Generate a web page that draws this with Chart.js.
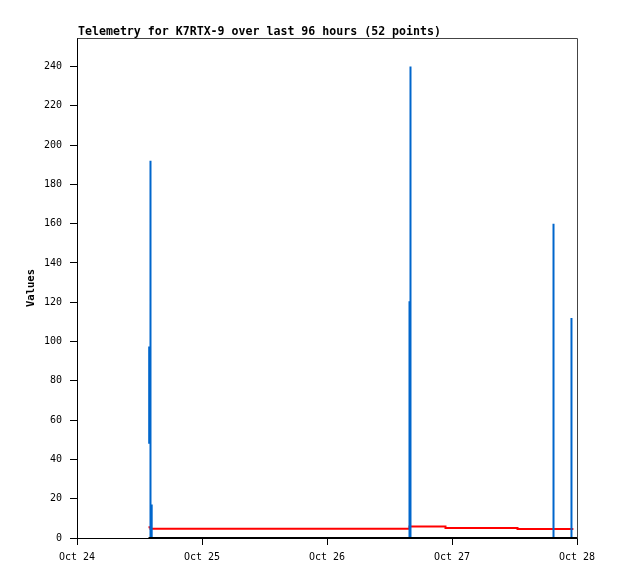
<!DOCTYPE html>
<html><head><meta charset="utf-8">
<script src="https://cdn.jsdelivr.net/npm/chart.js@4/dist/chart.umd.min.js"></script>
<style>html,body{margin:0;padding:0;background:#fff}#wrap{width:618px;height:579px;position:relative}</style>
</head><body><div id="wrap"><canvas id="c"></canvas></div>
<script>
const chartTitle = "Telemetry for K7RTX-9 over last 96 hours (52 points)";
const yAxisTitle = "Values";
const dayLabels = ["Oct 24", "Oct 25", "Oct 26", "Oct 27", "Oct 28"];
const yTickValues = [0, 20, 40, 60, 80, 100, 120, 140, 160, 180, 200, 220, 240];

// time = hours since Oct 24 00:00
const blueHours  = [13.86, 13.86, 14.11, 14.11, 14.11, 14.34, 14.34, 14.34, 63.84, 63.84, 64.03, 64.03, 64.03, 91.49, 91.49, 91.49, 94.94, 94.94, 94.94];
const blueValues = [48,    97,    97,    192,   0,     0,     17,    0,     0,     120,   120,   240,   0,     0,     160,   0,     0,     112,   0];

const redHours  = [13.73, 14.10, 63.84, 70.75, 84.58, 95.30];
const redValues = [5.5,   4.7,   5.8,   5.1,   4.6,   4.6];

const blackHours  = [13.73, 96];
const blackValues = [0, 0];

const toXY = (xs, ys) => xs.map((x, i) => ({x: x, y: ys[i]}));

const MONO = "'DejaVu Sans Mono', 'Liberation Mono', monospace";

const framePlugin = {
  id: 'frame',
  afterDraw(chart) {
    const {ctx, chartArea: a} = chart;
    ctx.save();
    ctx.strokeStyle = '#444';
    ctx.lineWidth = 1;
    ctx.beginPath();
    ctx.moveTo(a.left + 0.5, a.top + 0.5);
    ctx.lineTo(a.right + 0.5, a.top + 0.5);
    ctx.lineTo(a.right + 0.5, a.bottom + 0.5);
    ctx.stroke();
    ctx.fillStyle = '#000';
    ctx.font = "bold 11.6px " + MONO;
    ctx.textAlign = 'left';
    ctx.textBaseline = 'alphabetic';
    ctx.fillText(chartTitle, a.left + 1, 35);
    ctx.restore();
  }
};

new Chart(document.getElementById('c'), {
  type: 'line',
  data: {
    datasets: [
      { label: 'base', data: toXY(blackHours, blackValues), borderColor: '#000', borderWidth: 2, pointRadius: 0, order: 0, clip: false },
      { label: 'blue', data: toXY(blueHours, blueValues), borderColor: '#0066cc', borderWidth: 2, pointRadius: 0, order: 1, clip: false },
      { label: 'red', data: toXY(redHours, redValues), borderColor: '#ff0000', borderWidth: 2, pointRadius: 0, stepped: true, order: 2, clip: false }
    ]
  },
  options: {
    responsive: true,
    maintainAspectRatio: false,
    animation: false,
    events: [],
    layout: { padding: { top: 38, right: 41, left: 0, bottom: 0 } },
    plugins: { legend: { display: false }, tooltip: { enabled: false } },
    scales: {
      x: {
        type: 'linear', min: 0, max: 96,
        afterFit(s) { s.height = 41; },
        afterBuildTicks(s) { s.ticks = dayLabels.map((l, i) => ({value: i * 24})); },
        ticks: { stepSize: 24, autoSkip: false, maxRotation: 0, padding: 6, color: '#000',
                 font: { family: MONO, size: 10 },
                 callback: (v) => dayLabels[Math.round(v / 24)] },
        grid: { drawOnChartArea: false, drawTicks: true, tickLength: 7, color: '#000' },
        border: { display: true, color: '#000', width: 1 }
      },
      y: {
        type: 'linear', min: 0, max: 254.5,
        afterFit(s) { s.width = 77; },
        afterBuildTicks(s) { s.ticks = yTickValues.map(v => ({value: v})); },
        ticks: { autoSkip: false, padding: 8, color: '#000', font: { family: MONO, size: 10 } },
        grid: { drawOnChartArea: false, drawTicks: true, tickLength: 7, color: '#000' },
        border: { display: true, color: '#000', width: 1 },
        title: { display: true, text: yAxisTitle, color: '#000', padding: { top: 25, bottom: 0 },
                 font: { family: MONO, size: 10.5, weight: 'bold' } }
      }
    }
  },
  plugins: [framePlugin]
});
</script>
</body></html>
